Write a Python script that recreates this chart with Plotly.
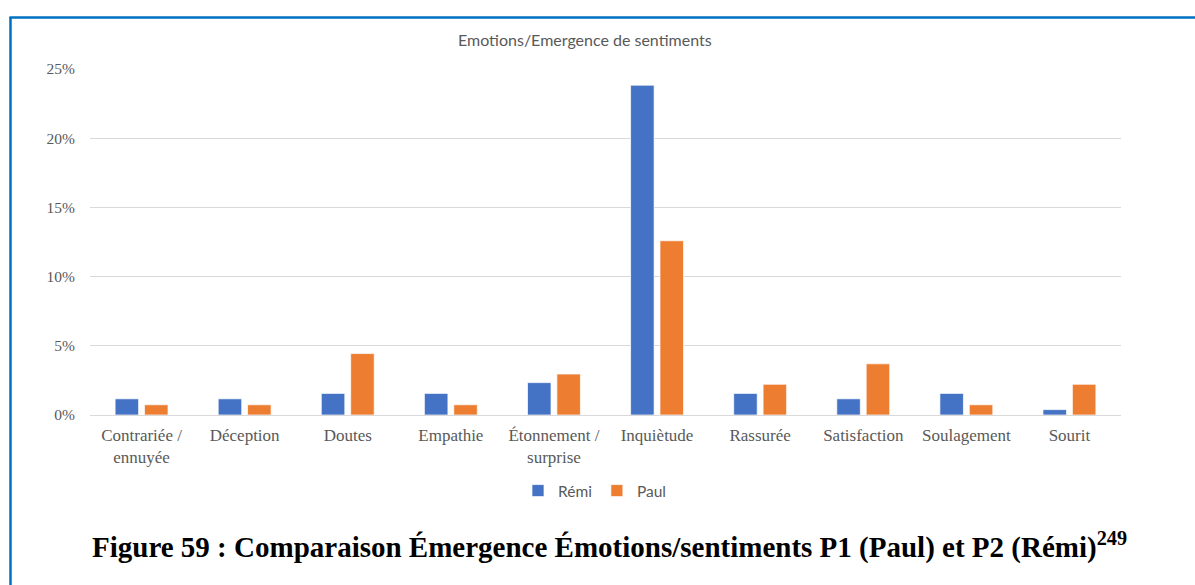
import plotly.graph_objects as go

# Emotion categories and share of each emotion per participant
categories = [
    "Contrariée /<br>ennuyée", "Déception", "Doutes", "Empathie",
    "Étonnement /<br>surprise", "Inquiètude", "Rassurée", "Satisfaction",
    "Soulagement", "Sourit",
]
remi = [0.0117, 0.0117, 0.0156, 0.0156, 0.0234, 0.2383, 0.0156, 0.0117, 0.0156, 0.0039]
paul = [0.0074, 0.0074, 0.0444, 0.0074, 0.0296, 0.1259, 0.0222, 0.0370, 0.0074, 0.0222]
y_ticks = [0, 0.05, 0.10, 0.15, 0.20, 0.25]
y_tick_labels = ["0%", "5%", "10%", "15%", "20%", "25%"]

W, H = 1195, 585
L, R, T, B = 90, 74, 69, 170
pw, ph = W - L - R, H - T - B


def px(x):
    return (x - L) / pw


def py(y):
    return (H - B - y) / ph


GREY = "#595959"
fig = go.Figure()
fig.add_trace(go.Bar(
    x=categories, y=remi, name="Rémi",
    marker=dict(color="#4472C4", line=dict(color="rgba(255,255,255,0.7)", width=1)),
))
fig.add_trace(go.Bar(
    x=categories, y=paul, name="Paul",
    marker=dict(color="#ED7D31", line=dict(color="rgba(255,255,255,0.7)", width=1)),
))

fig.update_layout(
    width=W, height=H,
    margin=dict(l=L, r=R, t=T, b=B, autoexpand=False),
    paper_bgcolor="white", plot_bgcolor="white",
    barmode="group", bargap=0.43, bargroupgap=0.2,
    showlegend=True,
    legend=dict(
        orientation="h", x=px(518), y=py(491), xanchor="left", yanchor="middle",
        font=dict(family="Lato", size=15.5, color=GREY),
        itemwidth=30, traceorder="normal",
    ),
    xaxis=dict(
        tickfont=dict(family="Liberation Serif", size=17, color=GREY),
        showgrid=False, showline=False, ticks="", ticklabelstandoff=8,
    ),
    yaxis=dict(
        range=[0, 0.25], tickvals=y_ticks, ticktext=y_tick_labels,
        tickfont=dict(family="Liberation Serif", size=15.5, color=GREY),
        showgrid=True, gridcolor="#D9D9D9", gridwidth=1,
        zeroline=True, zerolinecolor="#D9D9D9", zerolinewidth=1,
        showline=False, ticks="", ticklabelstandoff=14,
    ),
    shapes=[
        dict(type="line", xref="paper", yref="paper",
             x0=px(10.5), x1=px(10.5), y0=py(17), y1=py(W),
             line=dict(color="#0070C0", width=2.5)),
        dict(type="line", xref="paper", yref="paper",
             x0=px(9.5), x1=px(W + 5), y0=py(17.5), y1=py(17.5),
             line=dict(color="#0070C0", width=2.5)),
    ],
    annotations=[
        dict(text="Emotions/Emergence de sentiments", xref="paper", yref="paper",
             x=px(585), y=py(39), xanchor="center", yanchor="middle", showarrow=False,
             font=dict(family="Lato", size=16, color=GREY)),
        dict(text="<b>Figure 59 : Comparaison Émergence Émotions/sentiments P1 (Paul) et P2 (Rémi)<sup>249</sup></b>",
             xref="paper", yref="paper",
             x=px(609), y=py(545), xanchor="center", yanchor="middle", showarrow=False,
             font=dict(family="Liberation Serif", size=29, color="black")),
    ],
)

fig.write_html("out.html")
